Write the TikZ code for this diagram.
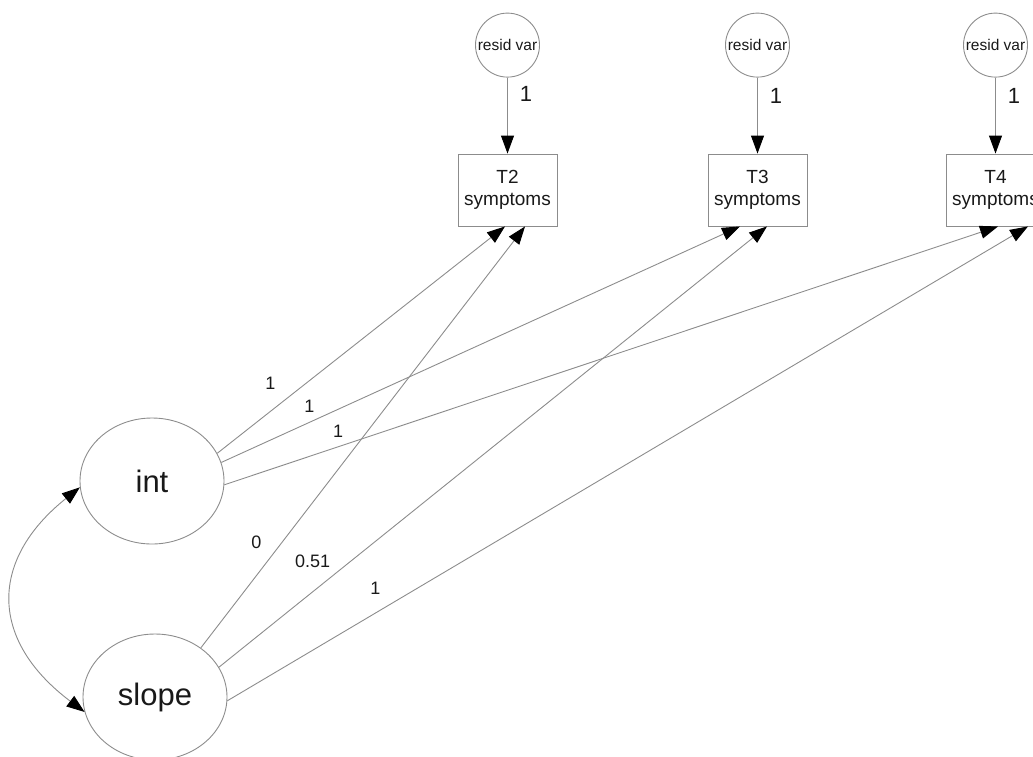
\documentclass[tikz,border=0pt]{standalone}
\usepackage{fontspec}
\setmainfont{Liberation Sans}
\usetikzlibrary{arrows.meta,positioning,shapes.geometric}

\begin{document}
\begin{tikzpicture}[x=1pt, y=-1pt,
		latent/.style={ellipse, draw=black!45, line width=0.9pt, minimum width=144pt, minimum height=126pt, inner sep=0pt, text=black!90, font=\fontsize{31}{31}\selectfont},
		resid/.style={circle, draw=black!45, line width=0.9pt, minimum size=64pt, inner sep=0pt, text=black!90, font=\fontsize{15.5}{15.5}\selectfont},
		obs/.style={rectangle, draw=black!45, line width=0.9pt, minimum width=99pt, minimum height=72pt, align=center, text=black!90, font=\fontsize{19}{22}\selectfont},
		lbl/.style={inner sep=0pt, text=black!90, font=\fontsize{18}{18}\selectfont},
		rlbl/.style={inner sep=0pt, text=black!90, font=\fontsize{22}{22}\selectfont},
		line/.style={draw=black!45, line width=0.9pt, -{Triangle[length=18pt,width=13pt,color=black,fill=black]}},
		cov/.style={draw=black!45, line width=0.9pt, {Triangle[length=18pt,width=13pt,color=black,fill=black]}-{Triangle[length=18pt,width=13pt,color=black,fill=black]}}]
		\clip (0,0) rectangle (1033,756);
		% Nodes
		\node [obs] (tTwo) at (507.5,190) {T2\\symptoms};
		\node [obs] (tThree) at (757.5,190) {T3\\symptoms};
		\node [obs] (tFour) at (995.5,190) {T4\\symptoms};
		\node [resid, above=76pt of tTwo] (rTwo) {resid var};
		\node [resid, above=76pt of tThree] (rThree) {resid var};
		\node [resid, above=76pt of tFour] (rFour) {resid var};
		\node [latent] (int) at (152,481) {int};
		\node [latent] (slope) at (155,697) {slope};

		% Paths
		\path [line] (rTwo) -- (tTwo) node [rlbl, pos=0.22, right=12pt] {1};
		\path [line] (rThree) -- (tThree) node [rlbl, pos=0.24, right=12pt] {1};
		\path [line] (rFour) -- (tFour) node [rlbl, pos=0.24, right=12pt] {1};

		\path [line] (int.23) -- ([xshift=-2.5pt]tTwo.south) node [lbl, pos=0.185, above=21pt] {1};
		\path [line] (int.15) -- ([xshift=-17.5pt]tThree.south) node [lbl, pos=0.17, above=9.5pt] {1};
		\path [line] (int.-3) -- ([xshift=2.5pt]tFour.south) node [lbl, pos=0.147, above=8.5pt] {1};

		\path [line] (slope.47) -- ([xshift=17.5pt]tTwo.south) node [lbl, pos=0.171, above=26.5pt] {0};
		\path [line] (slope.25) -- ([xshift=9.5pt]tThree.south) node [lbl, pos=0.171, above=23.5pt] {0.51};
		\path [line] (slope.-3) -- ([xshift=32.5pt]tFour.south) node [lbl, pos=0.185, above=18.5pt] {1};

		\path [cov] (int.185) .. controls (-11,560) and (-11,640) .. (slope.192);
	\end{tikzpicture}
\end{document}
